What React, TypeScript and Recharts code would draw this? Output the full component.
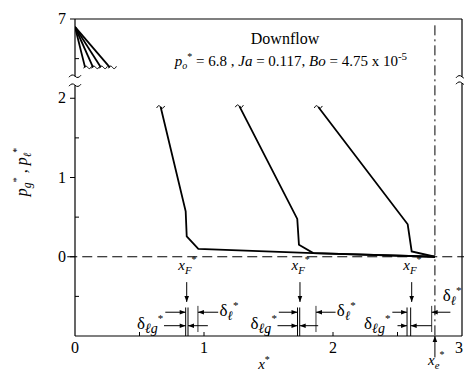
import React from "react";
import {
  ComposedChart, Line, XAxis, YAxis, ReferenceLine, ReferenceDot,
} from "recharts";

// the y axis is broken between 2 and 7: everything above the break is shifted down by 4
const BREAK_SHIFT = 4;

// main pressure profiles (below the break), x* vs p*
const curve1X = [0.664, 0.858, 0.866, 0.956, 1.845, 2.79];
const curve1Y = [1.89, 0.573, 0.257, 0.1, 0.047, 0.0];
const curve2X = [1.274, 1.723, 1.736, 1.847, 2.79];
const curve2Y = [1.9, 0.477, 0.152, 0.047, 0.0];
const curve3X = [1.886, 2.579, 2.61, 2.79];
const curve3Y = [1.89, 0.41, 0.067, 0.0];

// gas pressure fan at the top (real p* values, above the break)
const fanApex = { x: 0, y: 6.9 };
const fanEndX = [0.078, 0.14, 0.2, 0.27];
const fanEndY = 6.39;

const xTicks = [0, 0.5, 1, 1.5, 2, 2.5, 3];
const yTicks = [-0.5, 0, 0.5, 1, 1.5, 2, 2.5, 3];
const yTickLabels: Record<number, string> = { 0: "0", 1: "1", 2: "2", 3: "7" };

const xE = 2.79;

const FONT = "'Liberation Serif', 'DejaVu Serif', serif";

const toPts = (xs: number[], ys: number[]) => xs.map((x, i) => ({ x, y: ys[i] }));
const curves = [toPts(curve1X, curve1Y), toPts(curve2X, curve2Y), toPts(curve3X, curve3Y)];
const fans = fanEndX.map((ex) => [
  { x: fanApex.x, y: fanApex.y - BREAK_SHIFT },
  { x: ex, y: fanEndY - BREAK_SHIFT },
]);

const arrowShape = (p: any) => {
  const { x1, y1, x2, y2 } = p;
  const dx = x2 - x1, dy = y2 - y1;
  const len = Math.hypot(dx, dy) || 1;
  const ux = dx / len, uy = dy / len;
  const L = 6, W = 2.3;
  return (
    <g>
      <line x1={x1} y1={y1} x2={x2} y2={y2} stroke="#000" strokeWidth={1} />
      <path
        d={`M${x2},${y2} L${x2 - ux * L - uy * W},${y2 - uy * L + ux * W} L${x2 - ux * L + uy * W},${y2 - uy * L - ux * W} Z`}
        fill="#000"
      />
    </g>
  );
};

const seg = (key: string, x1: number, y1: number, x2: number, y2: number, head = true, sw = 1) => (
  <ReferenceLine
    key={key}
    segment={[{ x: x1, y: y1 }, { x: x2, y: y2 }]}
    ifOverflow="visible"
    stroke="#000"
    strokeWidth={sw}
    shape={head ? arrowShape : undefined}
  />
);

const at = (key: string, x: number, y: number, node: React.ReactNode) => (
  <ReferenceDot
    key={key}
    x={x}
    y={y}
    r={0}
    ifOverflow="visible"
    shape={(p: any) => <g transform={`translate(${p.cx},${p.cy})`}>{node}</g>}
  />
);

const tilde = (w: number) => (
  <path
    d={`M${-w},1 Q${-w / 2},-3 0,0 T${w},-1`}
    fill="none"
    stroke="#000"
    strokeWidth={1}
  />
);

// x with a subscript and a star
const starSub = (base: string, sub: string, size = 15) => (
  <>
    <tspan>{base}</tspan>
    <tspan dy={4} fontSize={size * 0.72}>{sub}</tspan>
    <tspan dy={-11} fontSize={size * 0.66} fontStyle="normal">*</tspan>
  </>
);

const xFLabel = (
  <text fontFamily={FONT} fontSize={15} textAnchor="middle" fontStyle="italic">
    {starSub("x", "F")}
  </text>
);

const deltaL = (
  <text fontFamily={FONT} fontSize={17} dy={5}>
    <tspan>δ</tspan>
    <tspan dy={4} fontSize={13} fontStyle="italic">ℓ</tspan>
    <tspan dy={-11} fontSize={11}>*</tspan>
  </text>
);

const deltaLG = (
  <text fontFamily={FONT} fontSize={17} dy={4} textAnchor="end">
    <tspan>δ</tspan>
    <tspan dy={4} fontSize={14} fontStyle="italic">ℓg</tspan>
    <tspan dy={-11} fontSize={11}>*</tspan>
  </text>
);

// per-front annotation layout (data units)
const groups = [
  { f: 0.866, d1: 0.858, d2: 0.876, thin: 0.953, lEnd: 1.11, gUp: 0.7, gLo: 0.69, gR: 1.03, gText: 0.685, lText: 1.12, lTextY: -0.68 },
  { f: 1.744, d1: 1.725, d2: 1.742, thin: 1.868, lEnd: 2.02, gUp: 1.58, gLo: 1.57, gR: 1.885, gText: 1.565, lText: 2.03, lTextY: -0.68 },
  { f: 2.61, d1: 2.574, d2: 2.602, thin: 2.765, lEnd: 2.91, gUp: 2.46, gLo: 2.5, gR: 2.765, gText: 2.445, lText: 2.85, lTextY: -0.5 },
];

const LeftTick = (p: any) => {
  const v = p.payload.value;
  const lab = yTickLabels[v];
  return (
    <g>
      {lab !== undefined ? (
        <line x1={p.x - 5} x2={p.x} y1={p.y} y2={p.y} stroke="#000" />
      ) : (
        <line x1={p.x} x2={p.x + 4} y1={p.y} y2={p.y} stroke="#000" />
      )}
      {lab !== undefined && (
        <text x={p.x - 9} y={p.y + 5} textAnchor="end" fontFamily={FONT} fontSize={16} fill="#000">
          {lab}
        </text>
      )}
    </g>
  );
};

const RightTick = (p: any) => (
  <line x1={p.x - 4} x2={p.x} y1={p.y} y2={p.y} stroke="#000" />
);

const BottomTick = (p: any) => {
  const v = p.payload.value;
  const last = v === 3;
  return (
    <g>
      {v > 0 && v < 3 && <line x1={p.x} x2={p.x} y1={p.y} y2={p.y - 4} stroke="#000" />}
      {Number.isInteger(v) && (
        <text
          x={last ? p.x + 1 : p.x}
          y={p.y + 17}
          textAnchor={last ? "end" : "middle"}
          fontFamily={FONT}
          fontSize={16}
          fill="#000"
        >
          {v}
        </text>
      )}
    </g>
  );
};

const TopTick = (p: any) => {
  const v = p.payload.value;
  if (v <= 0 || v >= 3) return <g />;
  return <line x1={p.x} x2={p.x} y1={p.y} y2={p.y + 4} stroke="#000" />;
};

export default function App() {
  return (
    <div style={{ position: "absolute", left: 0, top: 0, background: "#fff" }}>
      <ComposedChart
        width={480}
        height={377}
        margin={{ top: 9, right: 8, bottom: 11, left: 0 }}
      >
        <XAxis
          dataKey="x"
          type="number"
          domain={[0, 3]}
          ticks={xTicks}
          interval={0}
          height={30}
          tickSize={0}
          tickMargin={0}
          tick={<BottomTick />}
          axisLine={{ stroke: "#000", strokeWidth: 1.2 }}
          allowDataOverflow
        />
        <XAxis
          xAxisId="top"
          orientation="top"
          dataKey="x"
          type="number"
          domain={[0, 3]}
          ticks={xTicks}
          interval={0}
          height={10}
          tickSize={0}
          tickMargin={0}
          tick={<TopTick />}
          axisLine={{ stroke: "#000", strokeWidth: 1.2 }}
        />
        <YAxis
          type="number"
          domain={[-1, 3]}
          ticks={yTicks}
          interval={0}
          width={75}
          tickSize={0}
          tickMargin={0}
          tick={<LeftTick />}
          axisLine={false}
          allowDataOverflow
        />
        <YAxis
          yAxisId="right"
          orientation="right"
          type="number"
          domain={[-1, 3]}
          ticks={yTicks}
          interval={0}
          width={10}
          tickSize={0}
          tickMargin={0}
          tick={<RightTick />}
          axisLine={false}
        />

        {/* broken axis lines */}
        {seg("la1", 0, -1, 0, 2.165, false, 1.2)}
        {seg("la2", 0, 2.278, 0, 3, false, 1.2)}
        {seg("ra1", 3, -1, 3, 2.19, false, 1.2)}
        {seg("ra2", 3, 2.27, 3, 3, false, 1.2)}
        {at("lb1", 0, 2.278, tilde(6))}
        {at("lb2", 0, 2.165, tilde(6))}
        {at("rb1", 3, 2.27, tilde(6))}
        {at("rb2", 3, 2.19, tilde(6))}

        {/* reference dashed lines */}
        <ReferenceLine
          segment={[{ x: -0.06, y: 0 }, { x: 3.05, y: 0 }]}
          ifOverflow="visible"
          stroke="#000"
          strokeWidth={1}
          strokeDasharray="10 5"
        />
        <ReferenceLine
          segment={[{ x: xE, y: 2.92 }, { x: xE, y: -1 }]}
          ifOverflow="visible"
          stroke="#000"
          strokeWidth={1}
          strokeDasharray="10 4 2 4"
        />

        {curves.map((c, i) => (
          <Line
            key={`c${i}`}
            data={c}
            dataKey="y"
            type="linear"
            stroke="#000"
            strokeWidth={1.8}
            dot={false}
            isAnimationActive={false}
          />
        ))}
        {fans.map((c, i) => (
          <Line
            key={`f${i}`}
            data={c}
            dataKey="y"
            type="linear"
            stroke="#000"
            strokeWidth={1.8}
            dot={false}
            isAnimationActive={false}
          />
        ))}
        {curves.map((c, i) => at(`ct${i}`, c[0].x, c[0].y, tilde(4)))}
        {fanEndX.map((ex, i) => at(`ft${i}`, ex + 0.02, fanEndY - BREAK_SHIFT, tilde(4)))}

        {/* title */}
        {at("t1", 1.628, 2.685,
          <text fontFamily={FONT} fontSize={16} textAnchor="middle">Downflow</text>)}
        {at("t2", 1.674, 2.41,
          <text fontFamily={FONT} fontSize={15} textAnchor="middle">
            <tspan fontStyle="italic">p</tspan>
            <tspan dy={3} fontSize={10} fontStyle="italic">o</tspan>
            <tspan dy={-9} fontSize={10}>*</tspan>
            <tspan dy={6}> = 6.8 , </tspan>
            <tspan fontStyle="italic">Ja</tspan>
            <tspan> = 0.117, </tspan>
            <tspan fontStyle="italic">Bo</tspan>
            <tspan> = 4.75 x 10</tspan>
            <tspan dy={-6} fontSize={11}>-5</tspan>
          </text>)}

        {/* front annotations */}
        {groups.map((g, i) => (
          <React.Fragment key={`g${i}`}>
            {at(`xf${i}`, g.f + 0.005, -0.17, xFLabel)}
            {seg(`fa${i}`, g.f, -0.32, g.f, -0.57)}
            {seg(`v1${i}`, g.d1, -0.64, g.d1, -1, false)}
            {seg(`v2${i}`, g.d2, -0.64, g.d2, -1, false)}
            {seg(`v3${i}`, g.thin, -0.62, g.thin, -0.95, false, 0.8)}
            {seg(`la${i}`, g.lEnd, -0.7, g.thin, -0.7)}
            {seg(`gu${i}`, g.gUp, -0.7, g.d1, -0.7)}
            {seg(`gl${i}`, g.gLo, -0.87, g.d1, -0.87)}
            {seg(`gr${i}`, g.gR, -0.87, g.d2, -0.87)}
            {at(`dg${i}`, g.gText, -0.86, deltaLG)}
            {at(`dl${i}`, g.lText, g.lTextY, deltaL)}
          </React.Fragment>
        ))}

        {/* x_e marker */}
        {seg("xe", xE, -1.27, xE, -1.0)}
        {at("xel", xE + 0.01, -1.37,
          <text fontFamily={FONT} fontSize={15} textAnchor="middle" fontStyle="italic">
            {starSub("x", "e")}
          </text>)}

        {/* axis titles */}
        {at("xt", 1.465, -1.42,
          <text fontFamily={FONT} fontSize={15} textAnchor="middle" fontStyle="italic">
            <tspan>x</tspan>
            <tspan dy={-6} fontSize={10} fontStyle="normal">*</tspan>
          </text>)}
        {at("yt", -0.37, 1.07,
          <text fontFamily={FONT} fontSize={16} textAnchor="middle" fontStyle="italic" transform="rotate(-90)">
            {starSub("p", "g", 16)}
            <tspan dy={7}> , p</tspan>
            <tspan dy={4} fontSize={11}>ℓ</tspan>
            <tspan dy={-11} fontSize={10} fontStyle="normal">*</tspan>
          </text>)}
      </ComposedChart>
    </div>
  );
}
